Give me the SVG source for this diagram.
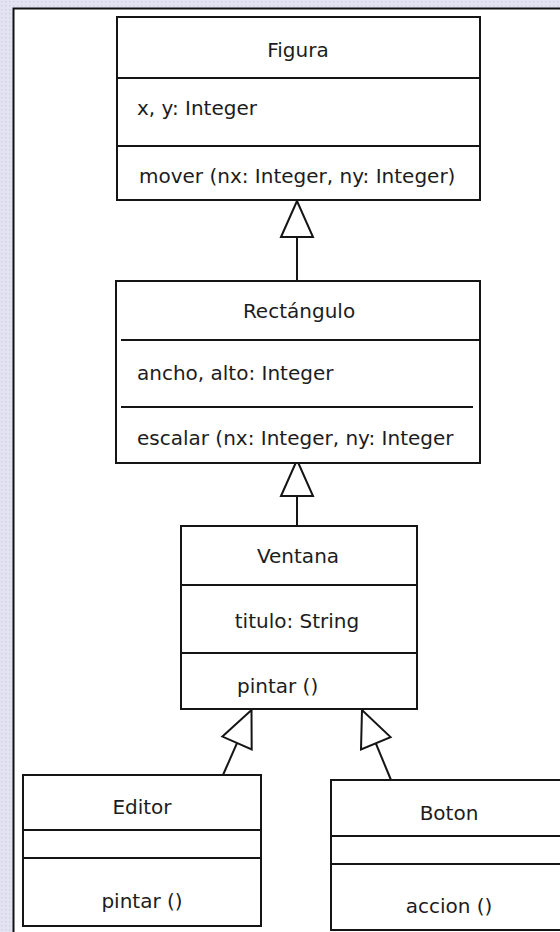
<svg xmlns="http://www.w3.org/2000/svg" width="560" height="932" viewBox="0 0 560 932">
  <style>
    .box { fill: #ffffff; stroke: #151515; stroke-width: 2; }
    .sep { stroke: #151515; stroke-width: 2; fill: none; }
    .t { font-family: "DejaVu Sans", "Liberation Sans", sans-serif; font-size: 20px; fill: #1c1c1c; }
    .c { text-anchor: middle; }
    .link { stroke: #151515; stroke-width: 2; fill: none; marker-end: url(#inherit); }
  </style>
  <defs>
    <pattern id="dots" width="4" height="4" patternUnits="userSpaceOnUse">
      <rect width="4" height="4" fill="#e3e3f2"/>
      <rect x="1" y="1" width="1.5" height="1.5" fill="#d2d2e8"/>
    </pattern>
    <!-- hollow triangle for generalization -->
    <marker id="inherit" viewBox="0 0 38 34" refX="37" refY="17" markerWidth="38" markerHeight="34" markerUnits="userSpaceOnUse" orient="auto" overflow="visible">
      <path d="M1,1 L37,17 L1,33 Z" fill="#ffffff" stroke="#151515" stroke-width="2" stroke-linejoin="miter"/>
    </marker>
  </defs>

  <!-- page background and frame -->
  <rect width="560" height="932" fill="url(#dots)"/>
  <rect x="13.5" y="8.5" width="560" height="940" fill="#ffffff" stroke="#111111" stroke-width="2"/>

  <g id="connectors">
    <line class="link" x1="297" y1="281" x2="297" y2="201"/>
    <line class="link" x1="297" y1="526" x2="297" y2="460"/>
    <line class="link" x1="223" y1="775" x2="251.5" y2="710"/>
    <line class="link" x1="391" y1="780" x2="362" y2="710"/>
  </g>

  <g id="figura">
    <rect class="box" x="117" y="17" width="363" height="183"/>
    <line class="sep" x1="117" y1="78" x2="480" y2="78"/>
    <line class="sep" x1="117" y1="146" x2="480" y2="146"/>
    <text class="t c" x="298" y="57">Figura</text>
    <text class="t" x="137" y="115">x, y: Integer</text>
    <text class="t" x="139" y="183">mover (nx: Integer, ny: Integer)</text>
  </g>

  <g id="rectangulo">
    <rect class="box" x="116" y="281" width="364" height="182"/>
    <line class="sep" x1="121" y1="340" x2="480" y2="340"/>
    <line class="sep" x1="121" y1="407" x2="473" y2="407"/>
    <text class="t c" x="299" y="318">Rectángulo</text>
    <text class="t" x="137" y="380">ancho, alto: Integer</text>
    <text class="t" x="137" y="445">escalar (nx: Integer, ny: Integer</text>
  </g>

  <g id="ventana">
    <rect class="box" x="181" y="526" width="236" height="183"/>
    <line class="sep" x1="181" y1="585" x2="417" y2="585"/>
    <line class="sep" x1="181" y1="653" x2="417" y2="653"/>
    <text class="t c" x="298" y="563">Ventana</text>
    <text class="t c" x="297" y="628">titulo: String</text>
    <text class="t" x="237" y="693">pintar ()</text>
  </g>

  <g id="editor">
    <rect class="box" x="23" y="775" width="238" height="151"/>
    <line class="sep" x1="23" y1="830" x2="261" y2="830"/>
    <line class="sep" x1="23" y1="858" x2="261" y2="858"/>
    <text class="t c" x="142" y="814">Editor</text>
    <text class="t c" x="142" y="908">pintar ()</text>
  </g>

  <g id="boton">
    <rect class="box" x="331" y="780" width="237" height="150"/>
    <line class="sep" x1="331" y1="836" x2="568" y2="836"/>
    <line class="sep" x1="331" y1="864" x2="568" y2="864"/>
    <text class="t c" x="449" y="820">Boton</text>
    <text class="t c" x="449" y="913">accion ()</text>
  </g>
</svg>
